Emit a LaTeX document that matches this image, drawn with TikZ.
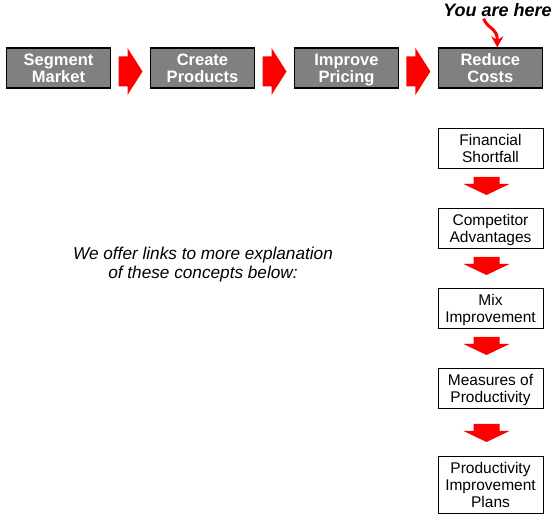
\documentclass[tikz,border=0pt]{standalone}
\usepackage{fontspec}
\setmainfont{Liberation Sans}
\usetikzlibrary{calc,arrows.meta}
\definecolor{boxgray}{HTML}{808080}
\definecolor{arrred}{HTML}{FF0000}
\newcommand\ms{\rule[-0.06em]{0pt}{0.84em}}
\begin{document}
\begin{tikzpicture}[x=1pt,y=-1pt,
  topbox/.style={draw=black, line width=1.2pt, fill=boxgray, minimum width=104pt, minimum height=40pt,
    inner sep=0pt, align=center, text=white, text depth=1pt, font=\fontsize{16.5}{16.5}\selectfont\bfseries},
  sidebox/.style={draw=black, line width=0.8pt, fill=white, minimum width=105pt, minimum height=40pt,
    inner sep=0pt, align=center, text depth=0.93pt, font=\fontsize{15.5}{17}\selectfont},
  rarrow/.pic={\fill[arrred] (-12,-15) -- (-3,-15) -- (-3,-23.5) -- (12,0) -- (-3,23.5) -- (-3,15) -- (-12,15) -- cycle;},
  darrow/.pic={\fill[arrred] (-13,-9) -- (13,-9) -- (13,-2) -- (23,-2) -- (0,9) -- (-23,-2) -- (-13,-2) -- cycle;}
]
\useasboundingbox (0,0) rectangle (558,524);
% top row
\node[topbox] (sm) at (58.5,68) {Segment\ms\\Market\ms};
\node[topbox] (cp) at (202.5,68) {Create\ms\\Products\ms};
\node[topbox] (ip) at (346.5,68) {Improve\ms\\Pricing\ms};
\node[topbox] (rc) at (490.3,68) {Reduce\ms\\Costs\ms};
\coordinate (a1) at ($($(sm.east)!0.5!(cp.west)$)+(0,3.5)$);
\coordinate (a2) at ($($(cp.east)!0.5!(ip.west)$)+(0,3.5)$);
\coordinate (a3) at ($($(ip.east)!0.5!(rc.west)$)+(0,3.5)$);
\pic at (a1) {rarrow};
\pic at (a2) {rarrow};
\pic at (a3) {rarrow};
% you are here
\node[font=\fontsize{18}{18}\selectfont\bfseries\itshape, inner sep=0pt] (yah) at (497.5,10) {You are here};
\coordinate (ys) at ($(yah.south)+(-14,2)$);
\coordinate (ye) at ($(rc.north)+(7,0)$);
\draw[arrred, line width=3pt, -{Stealth[length=11pt,width=12pt]}] (ys) .. controls ($(ys)+(6,12)$) and ($(ye)+(0,-20)$) .. (ye);
% right column
\node[sidebox] (fs) at (490.5,148) {Financial\ms\\Shortfall\ms};
\node[sidebox] (ca) at (490.5,228) {Competitor\ms\\Advantages\ms};
\node[sidebox] (mi) at (490.5,308) {Mix\ms\\Improvement\ms};
\node[sidebox] (mp) at (490.5,388) {Measures of\ms\\Productivity\ms};
\node[sidebox, minimum height=57pt] (pp) at (490.5,484.5) {Productivity\ms\\Improvement\ms\\Plans\ms};
\coordinate (d1) at ($($(fs.south)!0.5!(ca.north)$)+(-4,-2)$);
\coordinate (d2) at ($($(ca.south)!0.5!(mi.north)$)+(-4,-2)$);
\coordinate (d3) at ($($(mi.south)!0.5!(mp.north)$)+(-4,-2)$);
\coordinate (d4) at ($($(mp.south)!0.5!(pp.north)$)+(-4,1)$);
\pic at (d1) {darrow};
\pic at (d2) {darrow};
\pic at (d3) {darrow};
\pic at (d4) {darrow};
% note
\node[font=\fontsize{17.2}{18.5}\selectfont\itshape, align=center, inner sep=0pt] (note) at (203,264) {We offer links to more explanation\ms\\of these concepts below:\ms};
\end{tikzpicture}
\end{document}
